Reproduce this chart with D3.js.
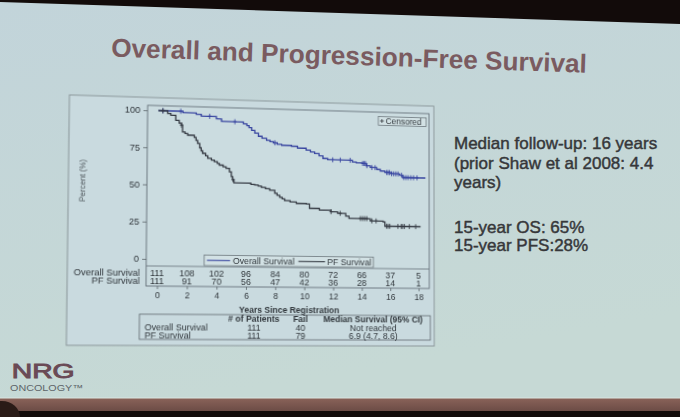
<!DOCTYPE html>
<html>
<head>
<meta charset="utf-8">
<script src="https://cdn.jsdelivr.net/npm/d3@7"></script>
<style>
  html, body { margin: 0; padding: 0; background: #120b0a; overflow: hidden; }
  #wrap { position: relative; width: 680px; height: 417px; }
  #wrap svg { position: absolute; left: 0; top: 0; }
  #chart { transform-origin: 0 0; }
  text { font-family: "Liberation Sans", Arial, sans-serif; }
</style>
</head>
<body>
<div id="wrap"></div>
<script>
// ---- data ----
const years = [0, 2, 4, 6, 8, 10, 12, 14, 16, 18];
const osAtRisk = [111, 108, 102, 96, 84, 80, 72, 66, 37, 5];
const pfAtRisk = [111, 91, 70, 56, 47, 42, 36, 28, 14, 1];
const yTicks = [0, 25, 50, 75, 100];

// Kaplan-Meier steps: [years, percent surviving from that time on]
const osSteps = [[0, 100], [1.65, 99.1], [2.55, 98.2], [2.89, 97.1], [3.92, 95.6], [4.27, 93.9],
  [5.76, 92.7], [6.0, 91.5], [6.15, 90.2], [6.33, 88.4], [6.55, 86.5], [6.8, 84.4], [7.05, 83.1],
  [7.36, 81.8], [7.6, 80.9], [7.83, 80.2], [8.1, 79.3], [8.4, 78.7], [9.08, 78.2], [9.5, 77.0],
  [10.1, 75.7], [10.4, 74.6], [10.69, 73.6], [11.0, 72.0], [11.27, 70.3], [11.6, 69.5],
  [13.33, 68.4], [13.6, 67.9], [14.02, 67.5], [14.3, 66.0], [14.59, 64.8], [15.05, 63.6],
  [15.3, 62.6], [15.62, 61.6], [16.1, 60.8], [16.66, 60.0], [16.88, 58.4]];
const osEnd = 18.5;
const osCensor = [0.3, 1.5, 3.46, 5.18, 7.94, 11.95, 12.48, 13.17, 14.05, 14.15, 14.25, 14.35,
  14.7, 14.93, 15.75, 15.85, 15.95, 16.1, 16.25, 16.4, 16.55, 16.8, 16.95, 17.1, 17.25, 17.45,
  17.65, 17.9];

const pfSteps = [[0, 100], [0.62, 98.2], [0.83, 97.0], [1.17, 93.7], [1.4, 91.9], [1.56, 90.5],
  [1.63, 86.0], [1.8, 85.0], [1.98, 83.9], [2.43, 82.4], [2.55, 80.5], [2.66, 78.4], [2.8, 75.5],
  [2.9, 73.5], [3.0, 71.8], [3.2, 70.2], [3.35, 68.5], [3.6, 67.4], [3.8, 66.3], [4.0, 65.2],
  [4.14, 64.1], [4.4, 63.0], [4.6, 62.0], [4.83, 59.7], [4.96, 56.4], [5.05, 54.5], [5.14, 52.3],
  [6.3, 51.4], [6.56, 51.1], [6.8, 50.4], [7.02, 49.6], [7.3, 48.7], [7.59, 47.8], [7.94, 45.7],
  [8.1, 44.4], [8.28, 43.0], [8.45, 42.0], [8.62, 40.8], [9.0, 40.0], [9.43, 39.1], [10.12, 38.8],
  [10.34, 35.9], [11.03, 34.8], [11.84, 33.8], [12.3, 32.8], [12.87, 31.0], [13.1, 29.5],
  [14.59, 28.0], [15.5, 27.5], [15.62, 24.5]];
const pfEnd = 18.15;
const pfCensor = [0.3, 1.56, 5.07, 11.84, 12.48, 13.9, 14.05, 14.2, 14.35, 14.7, 15.0, 15.74,
  15.85, 15.97, 16.54, 16.77, 16.88, 17.0, 17.35, 17.8];

const summaryHead = ['# of Patients', 'Fail', 'Median Survival (95% CI)'];
const summaryRows = [
  ['Overall Survival', '111', '40', 'Not reached'],
  ['PF Survival', '111', '79', '6.9 (4.7, 8.6)']
];
const notes = ['Median follow-up: 16 years', '(prior Shaw et al 2008: 4.4', 'years)',
  '15-year OS: 65%', '15-year PFS:28%'];

const W = 680, H = 417;
const OS_COLOR = '#3845a0', PF_COLOR = '#363b44', INK = '#30363b';

const wrap = d3.select('#wrap');

// ---- slide (background, title, notes, logo) ----
const slide = wrap.append('svg').attr('width', W).attr('height', H);
const defs = slide.append('defs');
const bg = defs.append('linearGradient').attr('id', 'slideBg')
  .attr('x1', 0).attr('y1', 0).attr('x2', 0.3).attr('y2', 1);
bg.append('stop').attr('offset', 0).attr('stop-color', '#c2d4da');
bg.append('stop').attr('offset', 1).attr('stop-color', '#c6d9d5');
const band = defs.append('linearGradient').attr('id', 'band')
  .attr('x1', 0).attr('y1', 0).attr('x2', 0).attr('y2', 1);
band.append('stop').attr('offset', 0).attr('stop-color', '#8a6359');
band.append('stop').attr('offset', 1).attr('stop-color', '#6c4c46');

slide.append('rect').attr('x', 0).attr('y', 398).attr('width', W).attr('height', 13)
  .attr('fill', 'url(#band)');
slide.append('polygon').attr('points', '0,2 680,24 680,398 0,398').attr('fill', 'url(#slideBg)');
slide.append('line').attr('x1', 0).attr('x2', W).attr('y1', 398).attr('y2', 398)
  .attr('stroke', '#d9e5e0').attr('stroke-width', 1);
slide.append('ellipse').attr('cx', 2).attr('cy', 417).attr('rx', 18).attr('ry', 16)
  .attr('fill', '#2a1b17');

slide.append('text')
  .attr('x', 349).attr('y', 64.7)
  .attr('text-anchor', 'middle')
  .attr('transform', 'rotate(1.95,349,58)')
  .attr('font-size', 26).attr('font-weight', 'bold')
  .attr('fill', '#7a5b60')
  .attr('textLength', 476).attr('lengthAdjust', 'spacingAndGlyphs')
  .text('Overall and Progression-Free Survival');

const noteY = [149.3, 168.6, 188, 232.7, 251.3];
slide.selectAll('.note').data(notes).enter().append('text')
  .attr('class', 'note')
  .attr('x', 454).attr('y', (d, i) => noteY[i])
  .attr('font-size', 17).attr('fill', '#36373a')
  .attr('stroke', '#36373a').attr('stroke-width', 0.45)
  .text(d => d);

slide.append('text').attr('x', 11.7).attr('y', 377.5)
  .attr('font-size', 20).attr('fill', '#6a4a55')
  .attr('stroke', '#6a4a55').attr('stroke-width', 0.9)
  .attr('textLength', 63).attr('lengthAdjust', 'spacingAndGlyphs')
  .text('NRG');
slide.append('text').attr('x', 10).attr('y', 391)
  .attr('font-size', 8.5).attr('fill', '#5d6468')
  .attr('textLength', 73).attr('lengthAdjust', 'spacingAndGlyphs')
  .text('ONCOLOGY™');

// ---- chart figure, drawn flat then projected like the photo ----
const chart = wrap.append('svg').attr('id', 'chart').attr('width', W).attr('height', H);

// plot box corners (flat) -> where they sit in the photo
function homography(src, dst) {
  const A = [], B = [];
  src.forEach(([px, py], i) => {
    const [u, v] = dst[i];
    A.push([px, py, 1, 0, 0, 0, -px * u, -py * u]); B.push(u);
    A.push([0, 0, 0, px, py, 1, -px * v, -py * v]); B.push(v);
  });
  const n = 8;
  for (let i = 0; i < n; i++) {
    let p = i;
    for (let r = i + 1; r < n; r++) if (Math.abs(A[r][i]) > Math.abs(A[p][i])) p = r;
    [A[i], A[p]] = [A[p], A[i]]; [B[i], B[p]] = [B[p], B[i]];
    for (let r = i + 1; r < n; r++) {
      const f = A[r][i] / A[i][i];
      for (let c = i; c < n; c++) A[r][c] -= f * A[i][c];
      B[r] -= f * B[i];
    }
  }
  const h = new Array(n);
  for (let i = n - 1; i >= 0; i--) {
    let s = B[i];
    for (let c = i + 1; c < n; c++) s -= A[i][c] * h[c];
    h[i] = s / A[i][i];
  }
  return h;
}
const hm = homography(
  [[148, 105], [429, 105], [148, 286], [429, 286]],
  [[147.7, 105.3], [429, 113.7], [146, 286], [429.3, 288.5]]
);
chart.style('transform',
  `matrix3d(${hm[0]},${hm[3]},0,${hm[6]},${hm[1]},${hm[4]},0,${hm[7]},0,0,1,0,${hm[2]},${hm[5]},0,1)`);

const plot = { left: 148, right: 429, top: 105, bottom: 286, riskTop: 266 };
const x = d3.scaleLinear().domain([0, 18]).range([158.5, 418]);
const y = d3.scaleLinear().domain([0, 100]).range([259, 110]);

// outer frame of the figure
chart.append('rect').attr('x', 73).attr('y', 97).attr('width', 361).attr('height', 248)
  .attr('fill', '#c9dadf').attr('stroke', '#8c989b').attr('stroke-width', 1);

chart.append('rect')
  .attr('x', plot.left).attr('y', plot.top)
  .attr('width', plot.right - plot.left).attr('height', plot.bottom - plot.top)
  .attr('fill', '#cbdce0').attr('stroke', '#66707a').attr('stroke-width', 0.9);
chart.append('line')
  .attr('x1', plot.left).attr('x2', plot.right)
  .attr('y1', plot.riskTop).attr('y2', plot.riskTop)
  .attr('stroke', '#66707a').attr('stroke-width', 0.8);

// axes
const yAxis = chart.append('g')
  .attr('transform', `translate(${plot.left},0)`)
  .call(d3.axisLeft(y).tickValues(yTicks).tickSize(4).tickPadding(3));
const xAxis = chart.append('g')
  .attr('transform', `translate(0,${plot.bottom})`)
  .call(d3.axisBottom(x).tickValues(years).tickSize(3).tickPadding(3));
[yAxis, xAxis].forEach(g => {
  g.attr('font-family', null).attr('font-size', null);
  g.select('.domain').remove();
  g.selectAll('.tick line').attr('stroke', '#5a6368').attr('stroke-width', 0.8);
  g.selectAll('.tick text').attr('fill', INK).attr('font-size', 9);
});
xAxis.selectAll('.tick text').attr('font-size', 8.5);

chart.append('text')
  .attr('transform', 'translate(89,182) rotate(-90)')
  .attr('text-anchor', 'middle')
  .attr('font-size', 8).attr('fill', '#4f575c')
  .text('Percent (%)');

chart.append('text')
  .attr('x', 288).attr('y', 312)
  .attr('text-anchor', 'middle')
  .attr('font-size', 8.5).attr('font-weight', 'bold').attr('fill', INK)
  .text('Years Since Registration');

// survival curves
const line = d3.line().x(d => x(d[0])).y(d => y(d[1])).curve(d3.curveStepAfter);
function survAt(steps, t) {
  let s = steps[0][1];
  steps.forEach(d => { if (d[0] <= t) s = d[1]; });
  return s;
}
const curves = [
  { steps: osSteps, end: osEnd, censor: osCensor, color: OS_COLOR },
  { steps: pfSteps, end: pfEnd, censor: pfCensor, color: PF_COLOR }
];
curves.forEach(c => {
  const pts = c.steps.concat([[c.end, c.steps[c.steps.length - 1][1]]]);
  chart.append('path')
    .attr('d', line(pts))
    .attr('fill', 'none')
    .attr('stroke', c.color).attr('stroke-width', 1.3);
  chart.append('g').selectAll('path').data(c.censor).enter().append('path')
    .attr('d', t => {
      const cx = x(t), cy = y(survAt(c.steps, t));
      return `M${cx},${cy - 2.6}V${cy + 2.6}M${cx - 1.6},${cy}H${cx + 1.6}`;
    })
    .attr('stroke', c.color).attr('stroke-width', 0.9);
});

// censored legend
const cl = chart.append('g');
cl.append('rect').attr('x', 377).attr('y', 109.5).attr('width', 49).attr('height', 9)
  .attr('fill', '#d2e1e4').attr('stroke', '#5f686e').attr('stroke-width', 0.7);
cl.append('path').attr('d', 'M380.7,112V116M378.8,114H382.6')
  .attr('stroke', INK).attr('stroke-width', 0.8);
cl.append('text').attr('x', 384.5).attr('y', 117.2)
  .attr('font-size', 8.5).attr('fill', INK).text('Censored');

// series legend
const lg = chart.append('g');
lg.append('rect').attr('x', 204).attr('y', 254.5).attr('width', 168).attr('height', 10.5)
  .attr('fill', '#d2e1e4').attr('stroke', '#5f686e').attr('stroke-width', 0.7);
[
  { label: 'Overall Survival', x1: 206.7, x2: 229.3, tx: 232, color: OS_COLOR },
  { label: 'PF Survival', x1: 296.7, x2: 323.3, tx: 325.5, color: PF_COLOR }
].forEach(d => {
  lg.append('line').attr('x1', d.x1).attr('x2', d.x2).attr('y1', 259.7).attr('y2', 259.7)
    .attr('stroke', d.color).attr('stroke-width', 1.1);
  lg.append('text').attr('x', d.tx).attr('y', 262.8)
    .attr('font-size', 8.7).attr('fill', INK).text(d.label);
});

// numbers at risk
[
  { label: 'Overall Survival', values: osAtRisk, yy: 275.8 },
  { label: 'PF Survival', values: pfAtRisk, yy: 283.6 }
].forEach(r => {
  chart.append('text').attr('x', 142).attr('y', r.yy)
    .attr('text-anchor', 'end').attr('font-size', 9).attr('fill', INK).text(r.label);
  chart.append('g').selectAll('text').data(r.values).enter().append('text')
    .attr('x', (d, i) => x(years[i])).attr('y', r.yy)
    .attr('text-anchor', 'middle').attr('font-size', 8.8).attr('fill', INK)
    .text(d => d);
});

// summary table
const colX = [147, 253, 299, 372];
chart.append('rect').attr('x', 142).attr('y', 314).attr('width', 288).attr('height', 25)
  .attr('fill', 'none').attr('stroke', '#5f686e').attr('stroke-width', 0.8);
chart.append('g').selectAll('text').data(summaryHead).enter().append('text')
  .attr('x', (d, i) => colX[i + 1]).attr('y', 321)
  .attr('text-anchor', 'middle')
  .attr('font-size', 8.5).attr('font-weight', 'bold').attr('fill', INK)
  .text(d => d);
summaryRows.forEach((row, ri) => {
  chart.append('g').selectAll('text').data(row).enter().append('text')
    .attr('x', (d, i) => colX[i]).attr('y', 329.8 + ri * 7.8)
    .attr('text-anchor', (d, i) => i === 0 ? 'start' : 'middle')
    .attr('font-size', 8.7).attr('fill', INK)
    .text(d => d);
});
</script>
</body>
</html>
